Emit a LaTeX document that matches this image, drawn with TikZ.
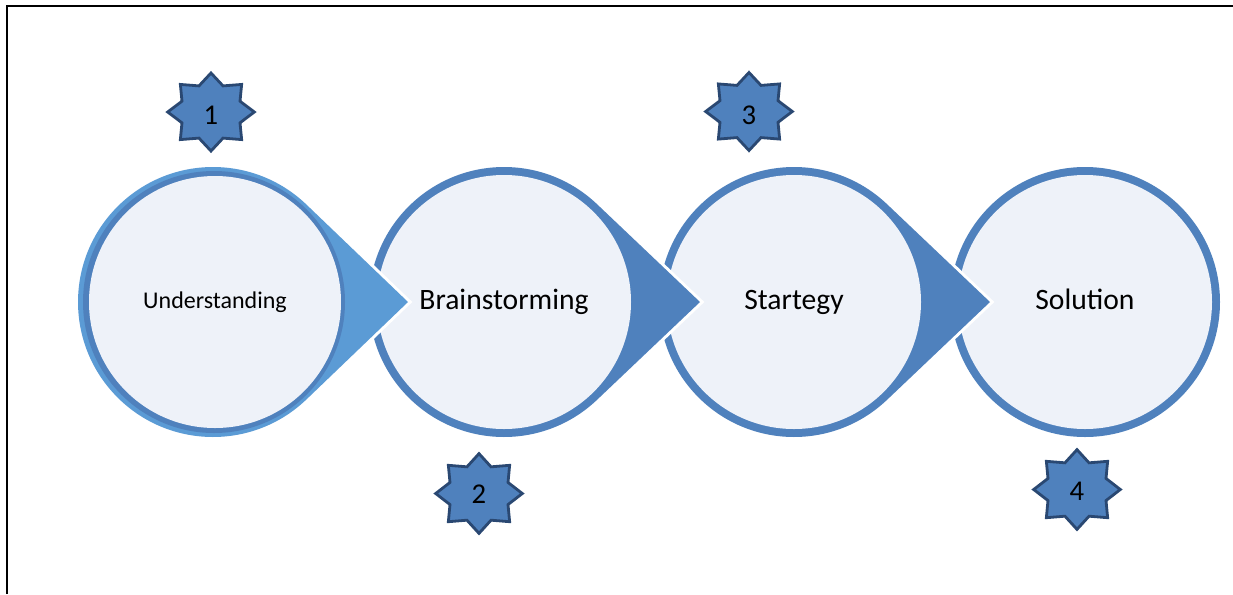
\documentclass[tikz,border=0pt]{standalone}
\usepackage{fontspec}
\setmainfont{Carlito}
\usetikzlibrary{calc,shapes.geometric}
\definecolor{ringblue}{HTML}{4F81BD}
\definecolor{lightblue}{HTML}{5B9BD5}
\definecolor{paleblue}{HTML}{EEF2F9}
\definecolor{stardark}{HTML}{2A4872}
\begin{document}
\begin{tikzpicture}[x=0.75pt,y=-0.75pt,
  innerdisc/.style={circle, fill=paleblue, inner sep=0pt, minimum size=190.5pt, font=\fontsize{22.2}{26}\selectfont, text height=15.5pt, text depth=5pt},
  gapline/.style={draw=white, line width=4.5pt, line join=miter},
  starshape/.style={star, star points=8, star point ratio=1.38, minimum size=65pt, inner sep=0pt, fill=ringblue, draw=stardark, line width=2.1pt},
  numtext/.style={font=\fontsize{21.5}{26}\selectfont, inner sep=0pt},
  frameline/.style={line width=1.5pt, black}]
\useasboundingbox (0,0) rectangle (1233,594);
\draw[frameline] (7,594) -- (7,6) -- (1233,6);

\coordinate (c1) at (213,302);
\coordinate (c2) at (504,302);
\coordinate (c3) at (794,302);
\coordinate (c4) at (1085,302);

% circle 4
\fill[ringblue] (c4) circle[radius=135];
\node[innerdisc] (n4) at (c4) {Solution};

% shape 3
\path[gapline] ($(c3)+(313.6:135)$) -- ($(c3)+(196,0)$) -- ($(c3)+(46.4:135)$) arc[start angle=46.4, end angle=313.6, radius=135] -- cycle;
\fill[ringblue] ($(c3)+(313.6:135)$) -- ($(c3)+(196,0)$) -- ($(c3)+(46.4:135)$) arc[start angle=46.4, end angle=313.6, radius=135] -- cycle;
\node[innerdisc] (n3) at (c3) {Startegy};

% shape 2
\path[gapline] ($(c2)+(313.6:135)$) -- ($(c2)+(196,0)$) -- ($(c2)+(46.4:135)$) arc[start angle=46.4, end angle=313.6, radius=135] -- cycle;
\fill[ringblue] ($(c2)+(313.6:135)$) -- ($(c2)+(196,0)$) -- ($(c2)+(46.4:135)$) arc[start angle=46.4, end angle=313.6, radius=135] -- cycle;
\node[innerdisc] (n2) at (c2) {Brainstorming};

% shape 1
\path[gapline] ($(c1)+(313.6:135)$) -- ($(c1)+(195,0)$) -- ($(c1)+(46.4:135)$) arc[start angle=46.4, end angle=313.6, radius=135] -- cycle;
\fill[lightblue] ($(c1)+(313.6:135)$) -- ($(c1)+(195,0)$) -- ($(c1)+(46.4:135)$) arc[start angle=46.4, end angle=313.6, radius=135] -- cycle;
\fill[ringblue] ($(c1)+(1,0)$) circle[radius=131];
\node[innerdisc, minimum size=189pt, font=\fontsize{18}{21}\selectfont, text height=13pt, text depth=4pt] (n1) at ($(c1)+(2,0)$) {Understanding};

% stars
\begin{scope}[shift={(211,112)}, yscale=0.9, transform shape]
  \node[starshape] (s1) at (0,0) {};
\end{scope}
\begin{scope}[shift={(479,493.5)}, yscale=0.92, transform shape]
  \node[starshape] (s2) at (0,0) {};
\end{scope}
\begin{scope}[shift={(749,111.5)}, yscale=0.9, transform shape]
  \node[starshape] (s3) at (0,0) {};
\end{scope}
\begin{scope}[shift={(1077,489.5)}, yscale=0.92, transform shape]
  \node[starshape] (s4) at (0,0) {};
\end{scope}
\node[numtext] (t1) at (211,115.5) {1};
\node[numtext] (t2) at (479,494.5) {2};
\node[numtext] (t3) at (749,115) {3};
\node[numtext] (t4) at (1077,491.5) {4};
\end{tikzpicture}
\end{document}
